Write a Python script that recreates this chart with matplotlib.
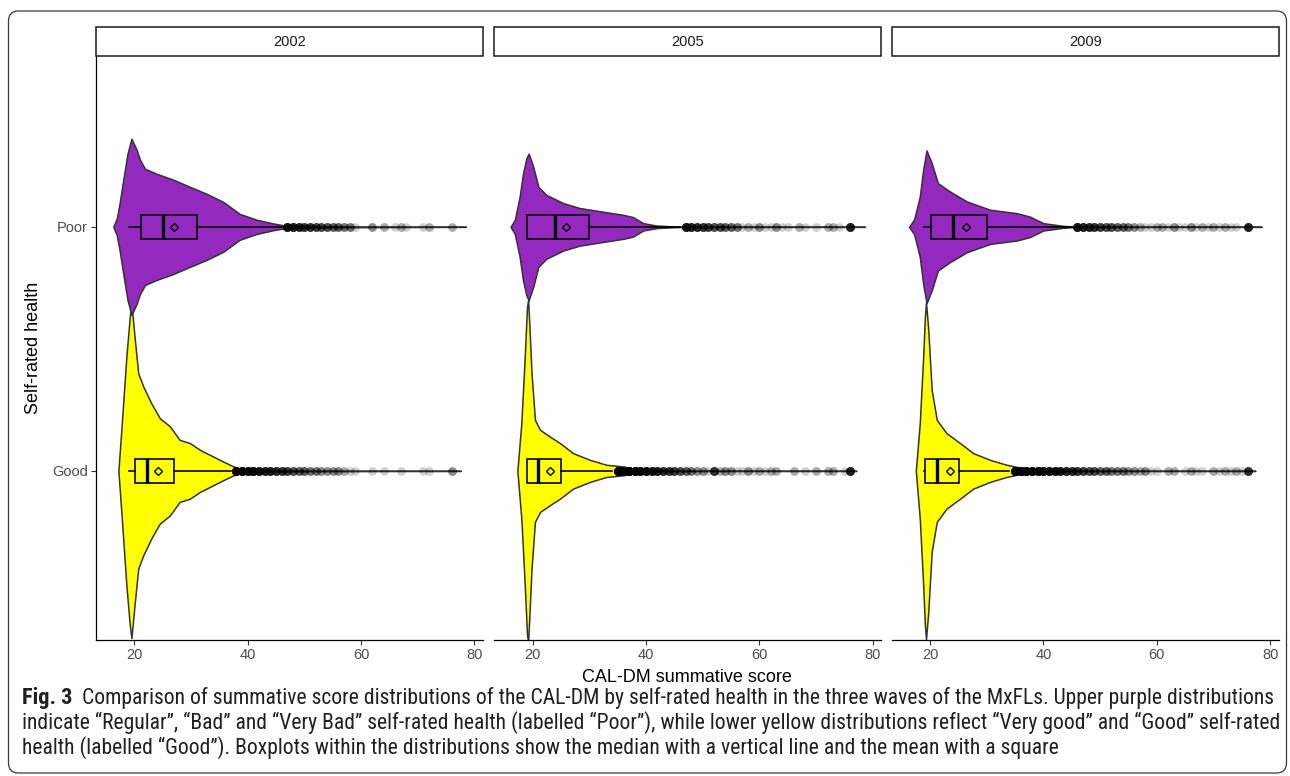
import matplotlib
matplotlib.use("Agg")
import matplotlib.pyplot as plt
import numpy as np
from matplotlib.patches import FancyBboxPatch, Rectangle
from matplotlib.transforms import IdentityTransform
from matplotlib import font_manager

# ---------------- data ----------------
years = ["2002", "2005", "2009"]
groups = ["Good", "Poor"]          # y positions 1, 2
group_colors = ["#FFFF00", "#9329BE"]
x_ticks = [20, 40, 60, 80]

# violin outlines: score grid and half-width (in category units)
good02_x = [17.2, 17.8, 18.6, 19.2, 19.5, 20.1, 20.7, 21.6, 23.0, 24.5, 26.3, 28.0, 29.8, 31.6, 33.9, 35.7, 37.5, 39.2, 44.4, 59.4, 77.6]
good02_w = [0, 0.195, 0.467, 0.63, 0.685, 0.537, 0.40, 0.345, 0.277, 0.216, 0.182, 0.127, 0.114, 0.086, 0.059, 0.038, 0.018, 0.006, 0.002, 0.001, 0]
poor02_x = [16.3, 16.9, 17.4, 18.0, 18.8, 19.5, 20.4, 21.0, 21.9, 24.0, 26.9, 29.8, 32.8, 35.7, 38.6, 41.6, 44.5, 46.4, 54.4, 78.5]
poor02_w = [0, 0.033, 0.094, 0.184, 0.299, 0.361, 0.316, 0.275, 0.238, 0.217, 0.193, 0.164, 0.135, 0.102, 0.053, 0.029, 0.014, 0.006, 0.002, 0]
good05_x = [17.3, 18.0, 18.6, 19.0, 19.2, 19.4, 19.8, 20.4, 21.3, 23.0, 24.8, 27.1, 30.1, 33.0, 36.0, 38.9, 44.5, 77.1]
good05_w = [0, 0.195, 0.467, 0.672, 0.70, 0.605, 0.40, 0.209, 0.168, 0.141, 0.114, 0.073, 0.045, 0.025, 0.018, 0.004, 0.001, 0]
poor05_x = [16.1, 16.85, 17.7, 18.3, 18.9, 19.3, 20.1, 21.0, 22.4, 25.4, 28.3, 31.3, 36.0, 37.7, 39.5, 41.9, 45.4, 78.6]
poor05_w = [0, 0.029, 0.123, 0.22, 0.282, 0.30, 0.246, 0.164, 0.131, 0.097, 0.077, 0.066, 0.049, 0.040, 0.015, 0.005, 0.0012, 0]
good09_x = [17.5, 18.2, 18.8, 19.1, 19.3, 19.7, 20.3, 21.2, 22.9, 25.3, 27.6, 30.6, 33.5, 36.4, 38.2, 44.8, 77.4]
good09_w = [0, 0.195, 0.467, 0.63, 0.69, 0.578, 0.332, 0.209, 0.155, 0.114, 0.073, 0.045, 0.025, 0.011, 0.004, 0.001, 0]
poor09_x = [16.3, 17.2, 18.2, 18.8, 19.4, 20.3, 21.4, 23.5, 26.5, 30.6, 35.3, 37.6, 40.0, 43.5, 45.3, 78.5]
poor09_w = [0, 0.03, 0.123, 0.234, 0.313, 0.261, 0.179, 0.145, 0.104, 0.070, 0.056, 0.042, 0.015, 0.004, 0.001, 0]

# boxplot statistics, order: [year][group Good, Poor]
whisk_lo = [[19, 19], [19, 19], [19, 19]]
q1 = [[20.1, 21.1], [19.0, 19.0], [19.1, 20.1]]
median = [[22.2, 25.0], [21.0, 24.0], [21.3, 24.0]]
q3 = [[27.0, 31.0], [25.0, 30.0], [25.1, 30.0]]
whisk_hi = [[37, 46], [34, 46], [34, 45]]
mean = [[24.2, 27.0], [23.1, 25.9], [23.5, 26.3]]

# outliers: score values and how many respondents share each
good02_out = [38, 39, 40, 41, 42, 43, 44, 45, 46, 47, 48, 49, 50, 51, 52, 53, 54, 55, 56, 57, 58, 59, 62, 64, 67, 71, 72, 76]
good02_n = [20, 18, 16, 14, 12, 10, 10, 9, 8, 7, 6, 5, 5, 4, 4, 3, 3, 3, 3, 2, 1, 1, 1, 1, 1, 1, 1, 3]
poor02_out = [47, 48, 49, 50, 51, 52, 53, 54, 55, 56, 57, 58, 59, 62, 64, 66, 67, 68, 71, 72, 76]
poor02_n = [12, 10, 9, 8, 8, 7, 6, 6, 5, 5, 4, 4, 1, 3, 2, 1, 2, 1, 1, 2, 2]
good05_out = [35, 36, 37, 38, 39, 40, 41, 42, 43, 44, 45, 46, 47, 48, 49, 50, 51, 52, 53, 54, 55, 56, 57, 58, 59, 60, 61, 62, 63, 66, 68, 70, 72, 73, 75, 76]
good05_n = [25, 22, 20, 18, 16, 14, 12, 10, 9, 8, 7, 6, 5, 4, 3, 3, 1, 8, 2, 3, 3, 1, 1, 3, 1, 2, 1, 2, 2, 2, 1, 2, 2, 2, 1, 10]
poor05_out = [47, 48, 49, 50, 51, 52, 53, 54, 55, 56, 57, 58, 59, 60, 61, 62, 63, 64, 65, 67, 68, 70, 72, 73, 74, 76]
poor05_n = [12, 10, 9, 8, 7, 6, 6, 5, 5, 4, 1, 2, 1, 3, 1, 1, 3, 1, 1, 2, 1, 1, 2, 2, 1, 10]
good09_out = [35, 36, 37, 38, 39, 40, 41, 42, 43, 44, 45, 46, 47, 48, 49, 50, 51, 52, 53, 54, 55, 56, 57, 58, 59, 60, 62, 63, 65, 66, 67, 68, 70, 71, 72, 73, 74, 75, 76]
good09_n = [25, 22, 20, 18, 16, 14, 13, 12, 11, 10, 9, 8, 7, 6, 6, 5, 5, 4, 4, 4, 3, 3, 2, 3, 1, 1, 2, 2, 1, 2, 1, 1, 2, 1, 2, 1, 2, 1, 8]
poor09_out = [46, 47, 48, 49, 50, 51, 52, 53, 54, 55, 56, 57, 58, 59, 60, 61, 62, 63, 64, 65, 66, 67, 68, 69, 70, 71, 72, 73, 74, 76]
poor09_n = [12, 10, 9, 8, 7, 6, 6, 5, 5, 4, 3, 2, 1, 1, 2, 2, 1, 3, 1, 1, 3, 1, 2, 1, 2, 1, 2, 1, 1, 10]

violin_x = [[good02_x, poor02_x], [good05_x, poor05_x], [good09_x, poor09_x]]
violin_w = [[good02_w, poor02_w], [good05_w, poor05_w], [good09_w, poor09_w]]
out_vals = [[good02_out, poor02_out], [good05_out, poor05_out], [good09_out, poor09_out]]
out_n = [[good02_n, poor02_n], [good05_n, poor05_n], [good09_n, poor09_n]]

x_title = "CAL-DM summative score"
y_title = "Self-rated health"
caption_fig = "Fig. 3"
caption_lines = [
    "Comparison of summative score distributions of the CAL-DM by self-rated health in the three waves of the MxFLs. Upper purple distributions",
    "indicate \u201cRegular\u201d, \u201cBad\u201d and \u201cVery Bad\u201d self-rated health (labelled \u201cPoor\u201d), while lower yellow distributions reflect \u201cVery good\u201d and \u201cGood\u201d self-rated",
    "health (labelled \u201cGood\u201d). Boxplots within the distributions show the median with a vertical line and the mean with a square",
]

# ---------------- layout ----------------
W, H = 1290, 776
fig = plt.figure(figsize=(W / 100, H / 100), dpi=100)
plt.rcParams["font.family"] = ["Liberation Sans", "DejaVu Sans"]

def fx(px):
    return px / W

def fy(py):
    return 1 - py / H

panel_left = [96, 494.4, 891.7]
panel_w = 387
panel_top, panel_bot = 56, 640
strip_top = 27

# outer rounded frame
frame = FancyBboxPatch((8.5, H - 773), 1286.5 - 8.5, 773 - 11,
                       boxstyle="round,pad=0,rounding_size=10",
                       transform=IdentityTransform(), fill=False,
                       ec="#3a3a3a", lw=0.9)
fig.add_artist(frame)

tick_col = "#4D4D4D"
box_half = 0.05

for i, yr in enumerate(years):
    L = panel_left[i]
    ax = fig.add_axes([fx(L), fy(panel_bot), panel_w / W, (panel_bot - panel_top) / H])
    ax.set_xlim(13.25, 81.5)
    ax.set_ylim(0.307, 2.70)
    for g in range(2):
        y0 = g + 1
        vx = np.array(violin_x[i][g])
        vw = np.array(violin_w[i][g])
        ax.fill_between(vx, y0 - vw, y0 + vw, facecolor=group_colors[g],
                        edgecolor="#333333", lw=1.1, zorder=1 + g * 0.1)
    for g in range(2):
        y0 = g + 1
        ax.add_patch(Rectangle((q1[i][g], y0 - box_half), q3[i][g] - q1[i][g], 2 * box_half,
                               fill=False, ec="black", lw=1.2, zorder=3))
        ax.plot([median[i][g]] * 2, [y0 - box_half, y0 + box_half], color="black", lw=2.4,
                solid_capstyle="butt", zorder=3)
        ax.plot([whisk_lo[i][g], q1[i][g]], [y0, y0], color="black", lw=1.2, zorder=3)
        ax.plot([q3[i][g], whisk_hi[i][g]], [y0, y0], color="black", lw=1.2, zorder=3)
        pts = np.repeat(out_vals[i][g], out_n[i][g])
        ax.scatter(pts, np.full(len(pts), float(y0)), s=40, c="black", alpha=0.18,
                   linewidths=0, zorder=4)
        ax.plot([mean[i][g]], [y0], marker="D", ms=4.2, mfc="none", mec="black",
                mew=1.0, zorder=5)

    for s in ["top", "right"]:
        ax.spines[s].set_visible(False)
    ax.spines["bottom"].set_linewidth(0.9)
    ax.spines["left"].set_linewidth(0.9)
    ax.set_xticks(x_ticks)
    ax.set_xticklabels([str(t) for t in x_ticks])
    ax.tick_params(axis="x", length=3.5, width=0.8, color="#333333", labelcolor=tick_col,
                   labelsize=10.5, pad=2.5)
    if i == 0:
        ax.set_yticks([1, 2])
        ax.set_yticklabels(groups)
        ax.tick_params(axis="y", length=3.5, width=0.8, color="#333333", labelcolor=tick_col,
                       labelsize=10.5, pad=2.5)
    else:
        ax.spines["left"].set_visible(False)
        ax.set_yticks([])
    ax.patch.set_alpha(0)

    # facet strip
    fig.add_artist(Rectangle((fx(L), fy(panel_top)), panel_w / W, (panel_top - strip_top) / H,
                             transform=fig.transFigure, facecolor="white", ec="#1a1a1a", lw=1.1))
    fig.text(fx(L + panel_w / 2), fy((panel_top + strip_top) / 2), yr, ha="center", va="center",
             fontsize=10.5, color="#1A1A1A")

fig.text(fx((panel_left[0] + panel_left[2] + panel_w) / 2), fy(677), x_title,
         ha="center", va="center", fontsize=13, color="black")
fig.text(fx(33), fy((panel_top + panel_bot) / 2), y_title, ha="center", va="center",
         rotation=90, fontsize=13, color="black")

# ---------------- caption ----------------
avail = {f.name for f in font_manager.fontManager.ttflist}
cap_family = next((f for f in ["Liberation Sans Narrow", "Roboto Condensed", "DejaVu Sans"]
                   if f in avail), "DejaVu Sans")
fam = [cap_family, "DejaVu Sans"]
renderer = fig.canvas.get_renderer()
cap_col = "#231F20"

def width_at10(s):
    t = fig.text(0, 0, s, fontsize=10, family=fam)
    w = t.get_window_extent(renderer).width
    t.remove()
    return w

line_starts = [82, 22, 22]
line_ends = [1277, 1273, 1067]
fits = [10 * (line_ends[k] - line_starts[k]) / width_at10(caption_lines[k]) for k in range(3)]
cap_fs = min(fits)
baselines = [704, 729, 754]

fig.text(fx(22), fy(baselines[0]), caption_fig, fontsize=cap_fs * 1.03, fontweight="bold",
         family=fam, color=cap_col, va="baseline")
for k in range(3):
    fig.text(fx(line_starts[k]), fy(baselines[k]), caption_lines[k], fontsize=cap_fs,
             family=fam, color=cap_col, va="baseline")

fig.savefig("out.png", dpi=100)
